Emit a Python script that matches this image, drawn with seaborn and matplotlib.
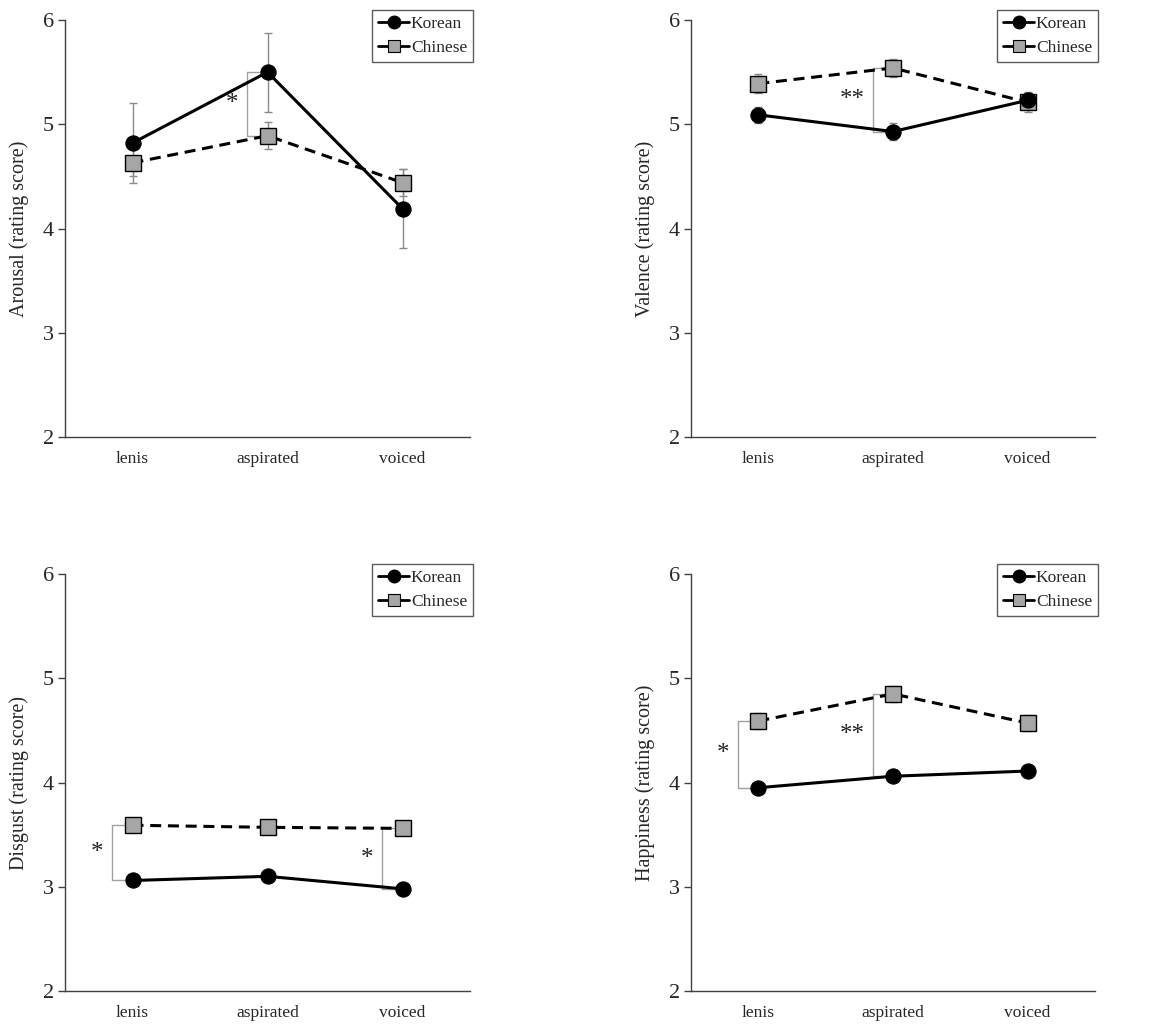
import numpy as np
import pandas as pd
import matplotlib
matplotlib.use("Agg")
import matplotlib.pyplot as plt
from matplotlib.lines import Line2D
import seaborn as sns

# ---------------- data ----------------
categories = ["lenis", "aspirated", "voiced"]
groups = ["Korean", "Chinese"]

arousal_korean = [4.82, 5.50, 4.19]
arousal_korean_err = [0.38, 0.38, 0.38]
arousal_chinese = [4.63, 4.89, 4.44]
arousal_chinese_err = [0.13, 0.13, 0.13]

valence_korean = [5.09, 4.93, 5.23]
valence_korean_err = [0.08, 0.08, 0.08]
valence_chinese = [5.39, 5.54, 5.21]
valence_chinese_err = [0.09, 0.09, 0.09]

disgust_korean = [3.06, 3.10, 2.98]
disgust_korean_err = [0.04, 0.04, 0.04]
disgust_chinese = [3.59, 3.57, 3.56]
disgust_chinese_err = [0.04, 0.04, 0.04]

happiness_korean = [3.95, 4.06, 4.11]
happiness_korean_err = [0.04, 0.04, 0.04]
happiness_chinese = [4.59, 4.85, 4.57]
happiness_chinese_err = [0.08, 0.08, 0.08]

y_labels = ["Arousal (rating score)", "Valence (rating score)",
            "Disgust (rating score)", "Happiness (rating score)"]
y_ticks = [2, 3, 4, 5, 6]

arousal_sig = [("aspirated", "*")]
valence_sig = [("aspirated", "**")]
disgust_sig = [("lenis", "*"), ("voiced", "*")]
happiness_sig = [("lenis", "*"), ("aspirated", "**")]

# ---------------- style ----------------
sns.set_theme(style="white")
plt.rcParams["font.family"] = ["Liberation Serif", "DejaVu Serif"]

W, H = 1170, 1029
fig = plt.figure(figsize=(W / 100, H / 100), dpi=100)

def rect(x0, y0, x1, y1):
    return [x0 / W, 1 - y1 / H, (x1 - x0) / W, (y1 - y0) / H]

axes_rects = [rect(65, 20, 470, 437), rect(691, 20, 1095, 437),
              rect(65, 574, 470, 991), rect(691, 574, 1095, 991)]

panels = [
    (arousal_korean, arousal_korean_err, arousal_chinese, arousal_chinese_err, arousal_sig),
    (valence_korean, valence_korean_err, valence_chinese, valence_chinese_err, valence_sig),
    (disgust_korean, disgust_korean_err, disgust_chinese, disgust_chinese_err, disgust_sig),
    (happiness_korean, happiness_korean_err, happiness_chinese, happiness_chinese_err, happiness_sig),
]

GREY_FILL = "#a6a6a6"
ERR_C = "#8a8a8a"
BR_C = "#a0a0a0"
AX_C = "#404040"

for (kor, kor_e, chn, chn_e, sig), r, ylab in zip(panels, axes_rects, y_labels):
    ax = fig.add_axes(r)
    pos = np.arange(len(categories))

    # error bars
    ax.errorbar(pos, chn, yerr=chn_e, fmt="none", ecolor=ERR_C, elinewidth=1.0,
                capsize=3, capthick=1.0, zorder=1)
    ax.errorbar(pos, kor, yerr=kor_e, fmt="none", ecolor=ERR_C, elinewidth=1.0,
                capsize=3, capthick=1.0, zorder=1)

    df_c = pd.DataFrame({"cat": categories, "val": chn})
    df_k = pd.DataFrame({"cat": categories, "val": kor})
    sns.lineplot(data=df_c, x="cat", y="val", ax=ax, sort=False, color="black",
                 lw=2.2, marker="s", markersize=11, markerfacecolor=GREY_FILL,
                 markeredgecolor="black", markeredgewidth=1.0,
                 dashes=False, linestyle=(0, (3.6, 2.2)), zorder=3)
    sns.lineplot(data=df_k, x="cat", y="val", ax=ax, sort=False, color="black",
                 lw=2.2, marker="o", markersize=11, markerfacecolor="black",
                 markeredgecolor="black", zorder=4)

    # significance brackets
    for cat, label in sig:
        i = categories.index(cat)
        top = max(kor[i], chn[i])
        bot = min(kor[i], chn[i])
        xb = i - 0.15
        ax.plot([xb, xb], [bot, top], color=BR_C, lw=1.0, zorder=2)
        ax.plot([xb, i - 0.06], [top, top], color=BR_C, lw=1.0, zorder=2)
        ax.plot([xb, i - 0.06], [bot, bot], color=BR_C, lw=1.0, zorder=2)
        off = 0.11 if label == "*" else 0.15
        ax.text(xb - off, (top + bot) / 2, label, ha="center", va="center",
                fontsize=18, color="#222222")

    ax.set_xlim(-0.5, len(categories) - 0.5)
    ax.set_ylim(2, 6)
    ax.set_yticks(y_ticks)
    ax.set_yticklabels([str(t) for t in y_ticks], fontsize=16)
    ax.set_xticks(np.arange(len(categories) + 1) - 0.5)
    ax.set_xticklabels([""] * (len(categories) + 1))
    ax.set_xticks(pos, labels=categories, minor=True)
    ax.tick_params(axis="x", which="minor", length=0, labelsize=12.5, pad=10)
    ax.tick_params(axis="x", which="major", direction="inout", length=9,
                   width=1, color=AX_C)
    ax.tick_params(axis="y", direction="out", length=5, width=1, color=AX_C,
                   left=True, pad=3)
    ax.set_xlabel("")
    ax.set_ylabel(ylab, fontsize=14.5, labelpad=10)
    for s in ["top", "right"]:
        ax.spines[s].set_visible(False)
    for s in ["left", "bottom"]:
        ax.spines[s].set_color(AX_C)
        ax.spines[s].set_linewidth(1.0)

    handles = [
        Line2D([], [], color="black", lw=2, marker="o", markersize=9,
               markerfacecolor="black"),
        Line2D([], [], color="black", lw=2, marker="s", markersize=9,
               markerfacecolor=GREY_FILL, markeredgecolor="black",
               markeredgewidth=0.8),
    ]
    leg = ax.legend(handles, groups, loc="upper right",
                    bbox_to_anchor=(1.008, 1.025), borderaxespad=0,
                    fontsize=12.5, frameon=True, fancybox=False,
                    handlelength=1.8, handletextpad=0.1, labelspacing=0.45,
                    borderpad=0.35)
    leg.get_frame().set_edgecolor("#333333")
    leg.get_frame().set_linewidth(1.0)

fig.savefig("out.png", dpi=100, facecolor="white")
